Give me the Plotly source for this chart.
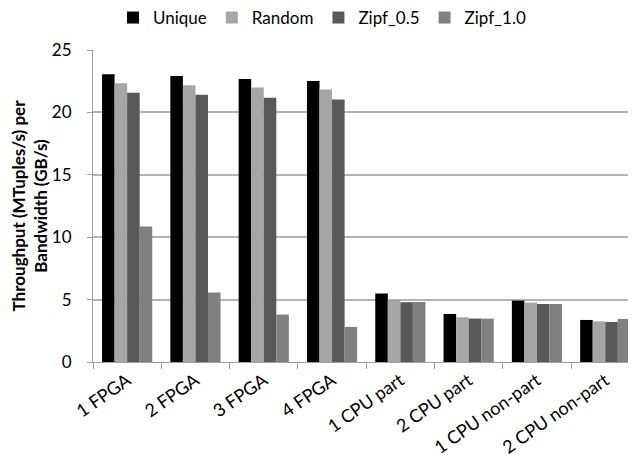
import plotly.graph_objects as go

categories = ["1 FPGA", "2 FPGA", "3 FPGA", "4 FPGA", "1 CPU part", "2 CPU part",
              "1 CPU non-part", "2 CPU non-part"]
unique = [23.05, 22.91, 22.67, 22.51, 5.48, 3.85, 4.92, 3.37]
random_ = [22.33, 22.17, 22.00, 21.84, 4.97, 3.58, 4.76, 3.26]
zipf_05 = [21.57, 21.41, 21.17, 21.04, 4.79, 3.48, 4.65, 3.21]
zipf_10 = [10.86, 5.56, 3.80, 2.81, 4.81, 3.48, 4.65, 3.45]

series = [
    ("Unique", unique, "#000000"),
    ("Random", random_, "#a6a6a6"),
    ("Zipf_0.5", zipf_05, "#595959"),
    ("Zipf_1.0", zipf_10, "#808080"),
]

fig = go.Figure()
for name, vals, color in series:
    fig.add_trace(go.Bar(x=categories, y=vals, name=name,
                         marker=dict(color=color, line=dict(width=0))))

font_family = "Lato, 'Open Sans', sans-serif"
fig.update_layout(
    width=628, height=454,
    margin=dict(l=85, r=0, t=42, b=100, autoexpand=False),
    paper_bgcolor="white", plot_bgcolor="white",
    barmode="group", bargap=0.265, bargroupgap=0,
    font=dict(family=font_family, size=17, color="#000000"),
    legend=dict(orientation="h", x=0.5, xanchor="center", xref="container",
                y=0.978, yanchor="middle", yref="container", font=dict(size=17),
                traceorder="normal", bgcolor="rgba(0,0,0,0)"),
    showlegend=True,
)
fig.update_xaxes(
    range=[-0.5, 7.45],
    showline=True, linecolor="#a0a0a0", linewidth=1,
    ticks="outside", tickson="boundaries", ticklen=6, tickcolor="#a0a0a0",
    tickangle=-35, tickfont=dict(size=18),
    showgrid=False, automargin=False,
)
fig.update_yaxes(
    range=[0, 25], dtick=5,
    showline=True, linecolor="#a0a0a0", linewidth=1,
    ticks="outside", ticklen=5, tickcolor="#a0a0a0",
    ticklabelstandoff=12,
    showgrid=True, gridcolor="#b3b3b3", gridwidth=1.5,
    tickfont=dict(size=17),
    title=dict(text="<b>Throughput (MTuples/s) per<br>Bandwidth (GB/s)</b>",
               font=dict(size=17), standoff=6),
    zeroline=False, automargin=False,
)
fig.write_html("out.html")
